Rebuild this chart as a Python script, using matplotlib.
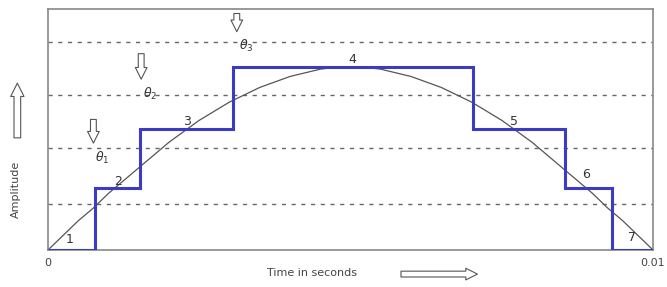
import numpy as np
import matplotlib
matplotlib.use('Agg')
import matplotlib.pyplot as plt
from matplotlib.patches import FancyArrowPatch

# quantized staircase: segment edges (s) and levels (relative amplitude)
step_edges = [0, 0.00078, 0.00152, 0.00306, 0.00702, 0.00855, 0.00932, 0.01]
step_levels = [0, 0.34, 0.665, 1.0, 0.665, 0.34, 0]
step_labels = ['1', '2', '3', '4', '5', '6', '7']

# analog signal
sig_t = [0, 0.00025, 0.0005, 0.00075, 0.001, 0.00125, 0.0015, 0.00175, 0.002, 0.00225,
         0.0025, 0.00275, 0.003, 0.00325, 0.0035, 0.00375, 0.004, 0.00425, 0.0045, 0.00475,
         0.005, 0.00525, 0.0055, 0.00575, 0.006, 0.00625, 0.0065, 0.00675, 0.007, 0.00725,
         0.0075, 0.00775, 0.008, 0.00825, 0.0085, 0.00875, 0.009, 0.00925, 0.0095, 0.00975, 0.01]
sig_a = [0, 0.08, 0.16, 0.23, 0.31, 0.38, 0.45, 0.52, 0.59, 0.65,
         0.71, 0.76, 0.81, 0.85, 0.89, 0.92, 0.95, 0.97, 0.99, 1.0,
         1.0, 1.0, 0.99, 0.97, 0.95, 0.92, 0.89, 0.85, 0.81, 0.76,
         0.71, 0.65, 0.59, 0.52, 0.45, 0.38, 0.31, 0.23, 0.16, 0.08, 0]

# dashed threshold levels
thresholds = [0.25, 0.56, 0.85, 1.14]

# theta markers: (x, arrow top, arrow bottom, label)
theta_x = [0.00075, 0.00154, 0.00312]
theta_top = [0.73, 1.09, 1.31]
theta_bot = [0.57, 0.92, 1.18]
theta_lbl = [r'$\theta_1$', r'$\theta_2$', r'$\theta_3$']

fig = plt.figure(figsize=(6.67, 2.87), dpi=100)
ax = fig.add_axes([0.072, 0.129, 0.907, 0.84])

for th in thresholds:
    ax.axhline(th, color='#666666', lw=1.0, ls=(0, (3, 4)), zorder=1)

ax.plot(sig_t, sig_a, color='#555555', lw=0.9, zorder=2)
ax.stairs(step_levels, step_edges, color='#3b3bc8', lw=2.2, zorder=3)

# step numbers
lbl_x = [0.00035, 0.00115, 0.00230, 0.00503, 0.00770, 0.00890, 0.00965]
lbl_y = [0.02, 0.34, 0.67, 1.01, 0.67, 0.38, 0.03]
for x, y, s in zip(lbl_x, lbl_y, step_labels):
    ax.text(x, y, s, fontsize=9, color='#333333', ha='center', va='bottom', zorder=4)

for x, t, b, s in zip(theta_x, theta_top, theta_bot, theta_lbl):
    ax.annotate('', xy=(x, b), xytext=(x, t),
                arrowprops=dict(arrowstyle='simple,head_width=0.6,head_length=0.6,tail_width=0.3',
                                fc='white', ec='#555555', lw=0.8, mutation_scale=14))
    ax.text(x + 0.00003, b - 0.02, s, fontsize=9, color='#333333', ha='left', va='top')

ax.set_xlim(0, 0.01)
ax.set_ylim(0, 1.32)
ax.set_xticks([0, 0.01])
ax.set_xticklabels(['0', '0.01'])
ax.set_yticks([])
ax.tick_params(axis='x', length=0, labelsize=8, colors='#444444', pad=6)
for sp in ax.spines.values():
    sp.set_color('#888888')
    sp.set_linewidth(1.2)

# axis labels with hollow arrows
fig.text(0.024, 0.34, 'Amplitude', rotation=90, fontsize=8, color='#444444', ha='center', va='center')
fig.add_artist(FancyArrowPatch((0.026, 0.51), (0.026, 0.72), transform=fig.transFigure,
               arrowstyle='simple,head_width=0.6,head_length=0.6,tail_width=0.3',
               fc='white', ec='#555555', lw=0.8, mutation_scale=16))
fig.text(0.468, 0.048, 'Time in seconds', fontsize=8, color='#444444', ha='center', va='center')
fig.add_artist(FancyArrowPatch((0.597, 0.045), (0.72, 0.045), transform=fig.transFigure,
               arrowstyle='simple,head_width=0.6,head_length=0.6,tail_width=0.3',
               fc='white', ec='#555555', lw=0.8, mutation_scale=14))

plt.savefig('out.png', dpi=100)
plt.close()
